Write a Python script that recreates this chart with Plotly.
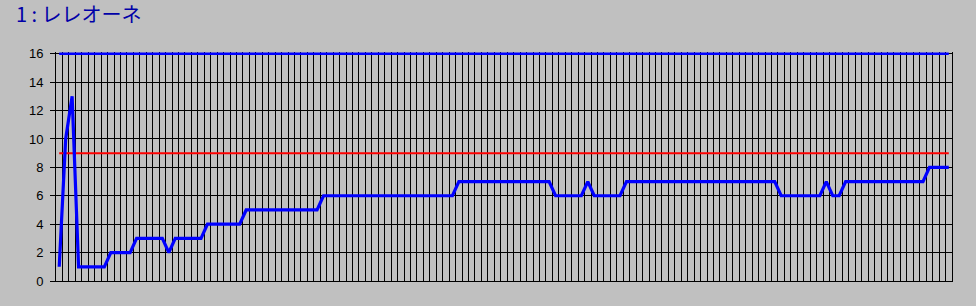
import plotly.graph_objects as go

# ---- data ----
categories = list(range(1, 140))  # 139 time slots (no labels shown)
values = [1, 10, 13,
          1, 1, 1, 1, 1,
          2, 2, 2, 2,
          3, 3, 3, 3, 3,
          2,
          3, 3, 3, 3, 3,
          4, 4, 4, 4, 4, 4,
          5, 5, 5, 5, 5, 5, 5, 5, 5, 5, 5, 5,
          6, 6, 6, 6, 6, 6, 6, 6, 6, 6, 6, 6, 6, 6, 6, 6, 6, 6, 6, 6, 6,
          7, 7, 7, 7, 7, 7, 7, 7, 7, 7, 7, 7, 7, 7, 7,
          6, 6, 6, 6, 6,
          7,
          6, 6, 6, 6, 6,
          7, 7, 7, 7, 7, 7, 7, 7, 7, 7, 7, 7, 7, 7, 7, 7, 7, 7, 7, 7, 7, 7, 7, 7,
          6, 6, 6, 6, 6, 6, 6,
          7,
          6, 6,
          7, 7, 7, 7, 7, 7, 7, 7, 7, 7, 7, 7, 7,
          8, 8, 8, 8]
upper_value = 16
limit_value = 9
y_ticks = [0, 2, 4, 6, 8, 10, 12, 14, 16]
title_text = "1 : レレオーネ"

n = len(categories)
xpos = list(range(n))

fig = go.Figure()
fig.add_trace(go.Scatter(x=xpos, y=[upper_value] * n, mode="lines",
                         line=dict(color="#0000FF", width=2.5), hoverinfo="skip"))
fig.add_trace(go.Scatter(x=xpos, y=[limit_value] * n, mode="lines",
                         line=dict(color="#FF0000", width=2), hoverinfo="skip"))
fig.add_trace(go.Scatter(x=xpos, y=values, mode="lines",
                         line=dict(color="#0000FF", width=3.2)))

W, H = 976, 306
plot_left, plot_right = 56, 952
y0_px, y16_px = 281, 54
px_per_unit = (y0_px - y16_px) / 16.0
ymax = 16.12
top_px = y0_px - ymax * px_per_unit

fig.update_layout(
    width=W, height=H,
    margin=dict(l=plot_left, r=W - plot_right, t=top_px, b=H - y0_px, pad=0),
    paper_bgcolor="#C0C0C0", plot_bgcolor="#C0C0C0",
    showlegend=False,
    title=dict(text=title_text, x=16 / W, xanchor="left", xref="container",
               y=1 - 15 / H, yanchor="middle", yref="container",
               font=dict(family="Noto Sans CJK JP", size=20, color="#0000A8")),
    font=dict(family="Liberation Sans, Arial", size=13, color="#000000"),
)
fig.update_xaxes(range=[-0.5, n - 0.5], tick0=-0.5, dtick=1, showticklabels=False,
                 showgrid=True, gridcolor="#000000", gridwidth=1,
                 showline=True, linecolor="#000000", linewidth=1,
                 zeroline=False, ticks="")
fig.update_yaxes(range=[0, ymax], tickvals=y_ticks, ticks="outside", ticklen=5,
                 tickcolor="#000000", showgrid=True, gridcolor="#000000", gridwidth=1,
                 showline=True, linecolor="#000000", linewidth=1, mirror=True,
                 zeroline=False, ticklabelstandoff=4,
                 tickfont=dict(family="Liberation Sans, Arial", size=13, color="#000000"))

fig.write_html("out.html")
